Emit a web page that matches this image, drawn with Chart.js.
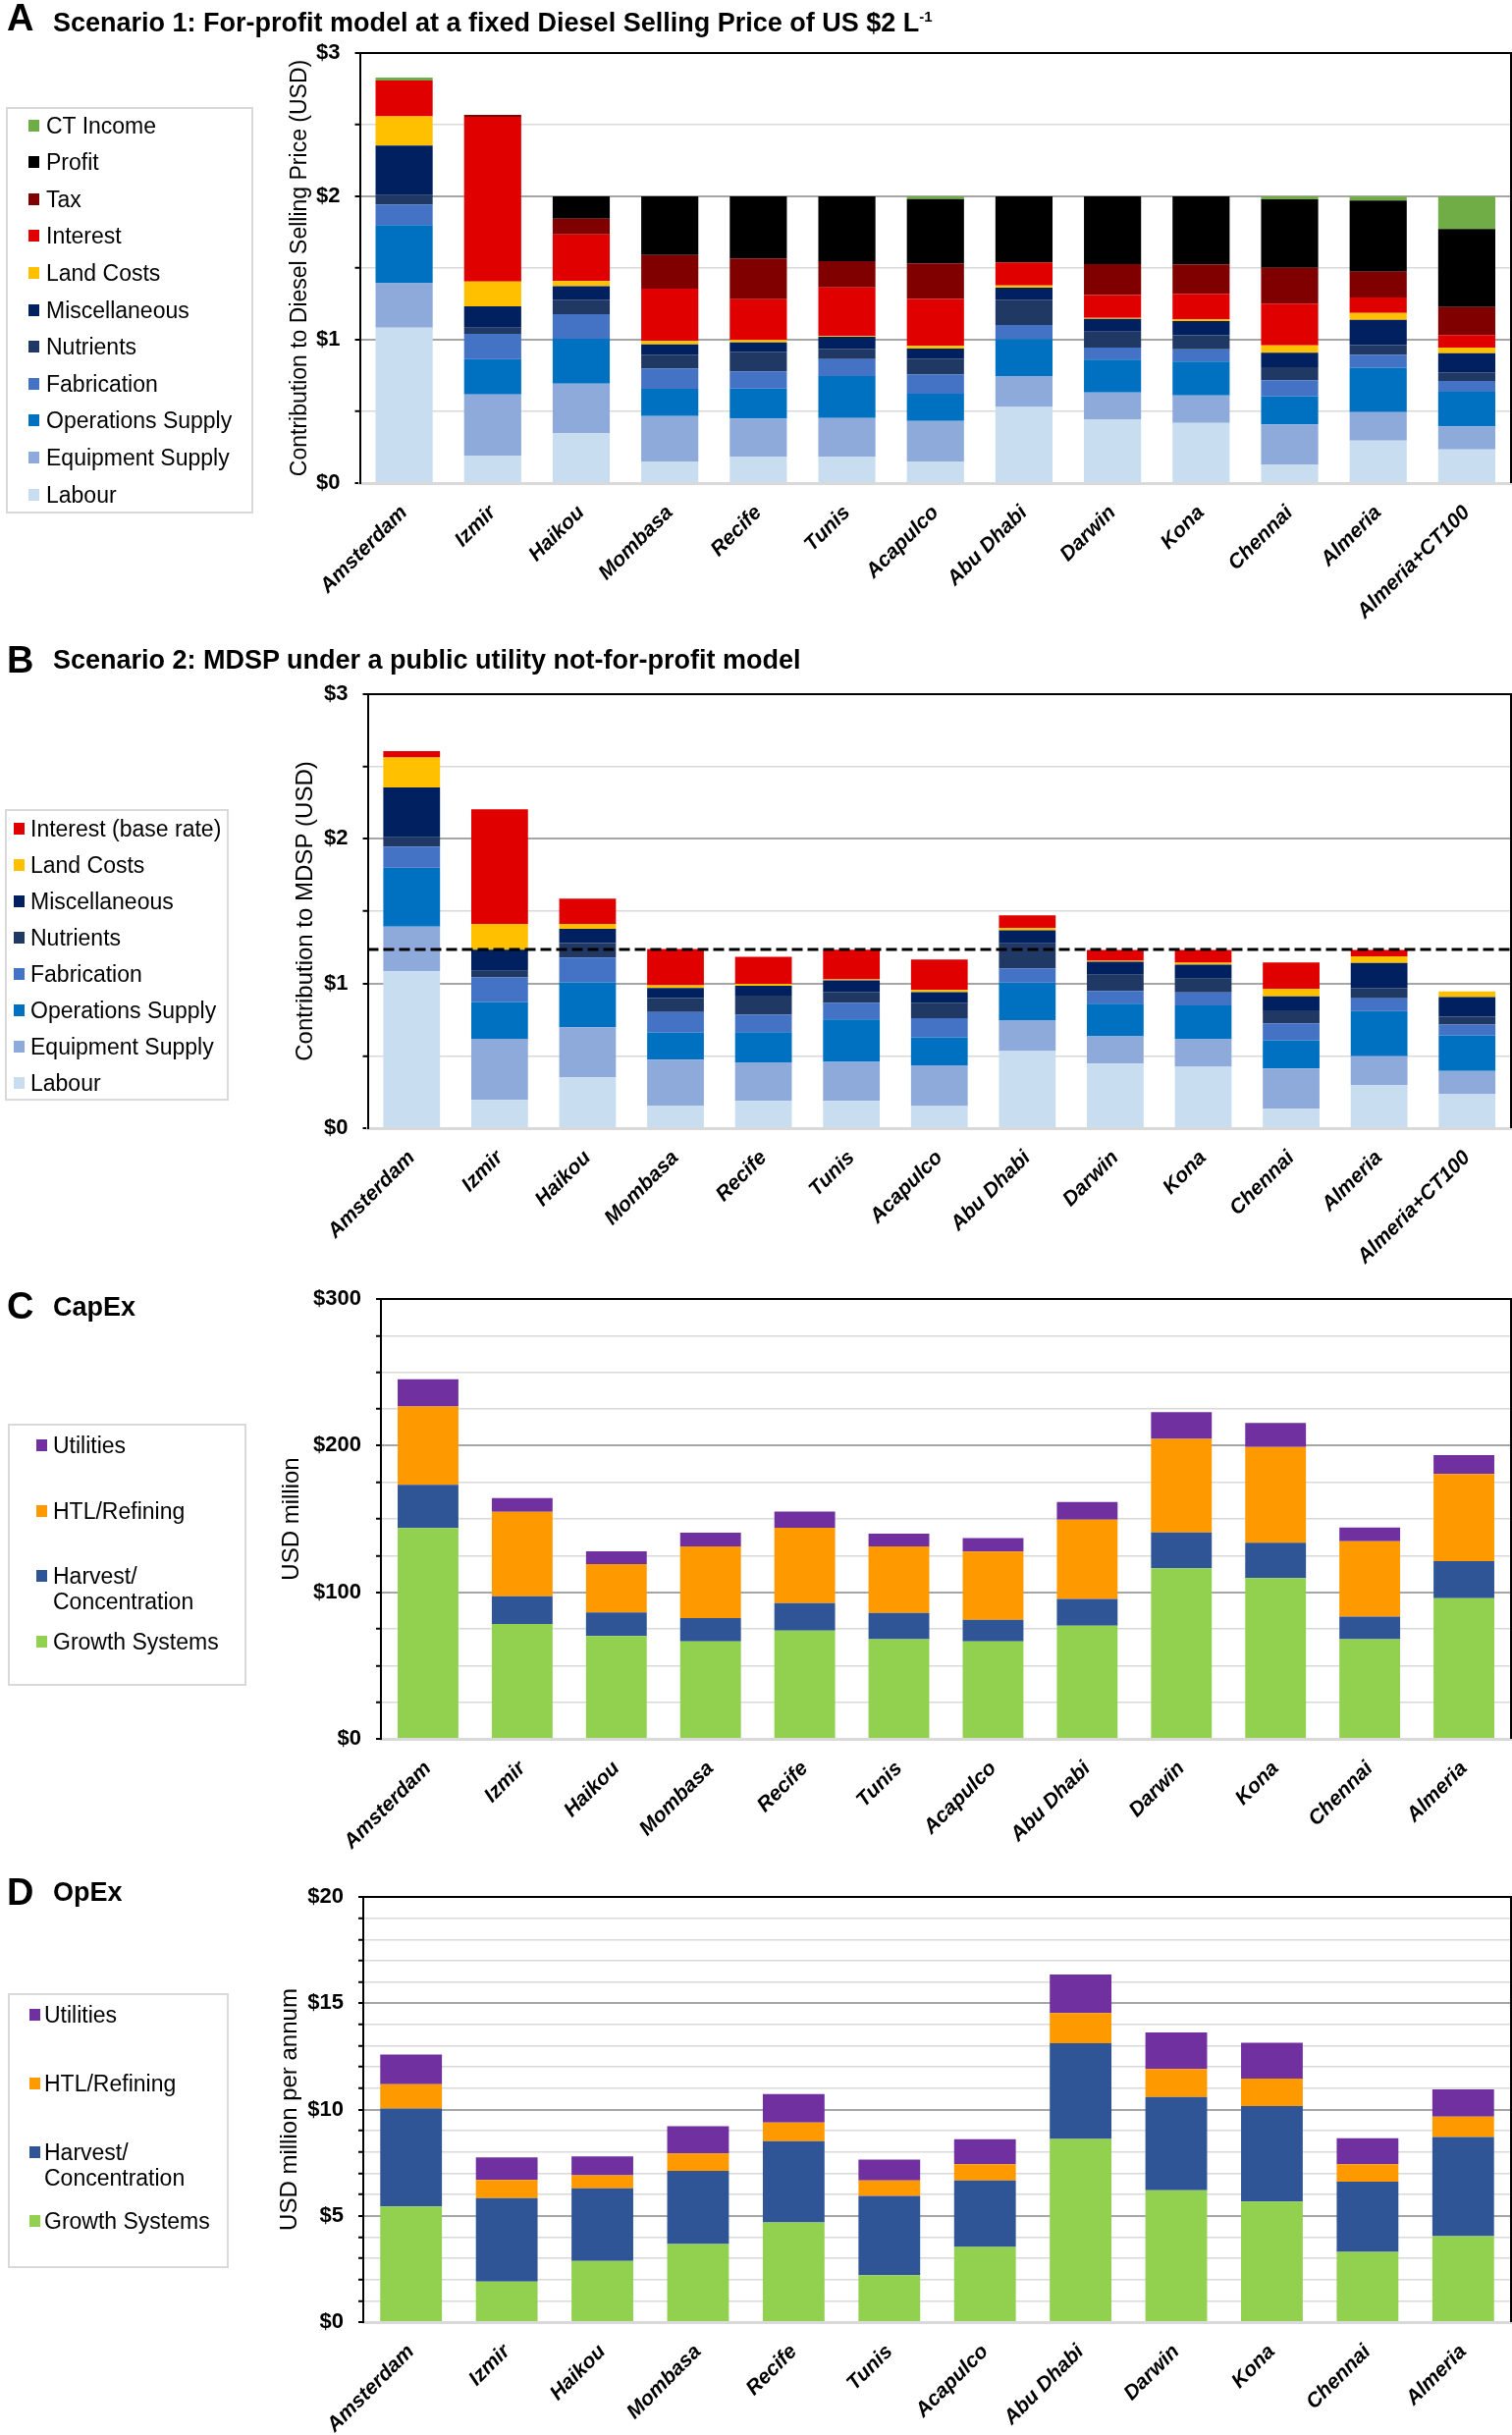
<!DOCTYPE html>
<html>
<head>
<meta charset="utf-8">
<script src="https://cdn.jsdelivr.net/npm/chart.js@4.4.1/dist/chart.umd.min.js"></script>
<style>
  body { margin: 0; background: #fff; font-family: "Liberation Sans", Arial, sans-serif; }
  #page { position: relative; width: 1540px; height: 2480px; overflow: hidden; }
  canvas { position: absolute; left: 0; }
  .letter { position: absolute; left: 7px; font-size: 38px; font-weight: bold; line-height: 38px; }
  .heading { position: absolute; left: 54px; font-size: 27px; font-weight: bold; line-height: 27px; white-space: nowrap; }
  .heading sup { font-size: 15px; }
  .legend { position: absolute; border: 2px solid #d9d9d9; box-sizing: border-box; }
  .item { position: absolute; font-size: 23px; line-height: 26px; color: #000; }
  .swatch { position: absolute; width: 11px; height: 12px; }
</style>
</head>
<body>
<div id="page">
  <canvas id="chartA" width="1540" height="650" style="top:0px"></canvas>
  <canvas id="chartB" width="1540" height="660" style="top:650px"></canvas>
  <canvas id="chartC" width="1540" height="610" style="top:1290px"></canvas>
  <canvas id="chartD" width="1540" height="580" style="top:1900px"></canvas>

  <div class="letter" style="top:-1px">A</div>
  <div class="heading" style="top:3px">Scenario 1: For-profit model at a fixed Diesel Selling Price of US $2 L<sup>-1</sup></div>
  <div class="letter" style="top:653px">B</div>
  <div class="heading" style="top:659px">Scenario 2: MDSP under a public utility not-for-profit model</div>
  <div class="letter" style="top:1311px">C</div>
  <div class="heading" style="top:1318px">CapEx</div>
  <div class="letter" style="top:1908px">D</div>
  <div class="heading" style="top:1914px">OpEx</div>
</div>

<script>
// categories
const sites = ['Amsterdam', 'Izmir', 'Haikou', 'Mombasa', 'Recife', 'Tunis', 'Acapulco',
  'Abu Dhabi', 'Darwin', 'Kona', 'Chennai', 'Almeria'];
const sitesCT = sites.concat(['Almeria+CT100']);

// Scenario 1 - USD per litre
const labour1   = [1.084, 0.192, 0.349, 0.151, 0.185, 0.185, 0.151, 0.530, 0.445, 0.420, 0.130, 0.297, 0.235];
const equip1    = [0.309, 0.427, 0.345, 0.317, 0.265, 0.269, 0.283, 0.217, 0.187, 0.192, 0.279, 0.198, 0.160];
const ops1      = [0.406, 0.246, 0.313, 0.190, 0.210, 0.293, 0.189, 0.258, 0.229, 0.235, 0.198, 0.309, 0.242];
const fab1      = [0.144, 0.176, 0.171, 0.141, 0.119, 0.118, 0.135, 0.098, 0.084, 0.087, 0.110, 0.091, 0.075];
const nutr1     = [0.066, 0.043, 0.101, 0.096, 0.137, 0.071, 0.110, 0.176, 0.112, 0.096, 0.091, 0.068, 0.060];
const misc1     = [0.345, 0.149, 0.095, 0.073, 0.066, 0.085, 0.070, 0.084, 0.089, 0.100, 0.101, 0.176, 0.134];
const land1     = [0.205, 0.173, 0.035, 0.023, 0.016, 0.004, 0.019, 0.016, 0.007, 0.014, 0.052, 0.048, 0.039];
const interest1 = [0.249, 1.149, 0.326, 0.365, 0.285, 0.340, 0.328, 0.160, 0.158, 0.176, 0.290, 0.108, 0.087];
const tax1      = [0, 0.013, 0.110, 0.235, 0.283, 0.183, 0.247, 0, 0.216, 0.205, 0.251, 0.180, 0.196];
const profit1   = [0, 0, 0.155, 0.409, 0.434, 0.452, 0.450, 0.461, 0.473, 0.475, 0.477, 0.496, 0.544];
const ctIncome1 = [0.021, 0, 0, 0, 0, 0, 0.018, 0, 0, 0, 0.021, 0.027, 0.228];

// Scenario 2 - MDSP, USD per litre
const labour2   = [1.085, 0.195, 0.351, 0.156, 0.188, 0.188, 0.152, 0.532, 0.446, 0.424, 0.134, 0.299, 0.238];
const equip2    = [0.308, 0.423, 0.347, 0.317, 0.263, 0.270, 0.283, 0.215, 0.188, 0.190, 0.278, 0.199, 0.158];
const ops2      = [0.408, 0.254, 0.310, 0.188, 0.213, 0.294, 0.192, 0.259, 0.227, 0.235, 0.195, 0.311, 0.245];
const fab2      = [0.145, 0.170, 0.172, 0.141, 0.120, 0.115, 0.134, 0.099, 0.088, 0.089, 0.118, 0.088, 0.075];
const nutr2     = [0.065, 0.045, 0.100, 0.097, 0.133, 0.075, 0.106, 0.172, 0.111, 0.095, 0.090, 0.072, 0.054];
const misc2     = [0.345, 0.147, 0.097, 0.070, 0.068, 0.080, 0.073, 0.091, 0.091, 0.097, 0.096, 0.173, 0.136];
const land2     = [0.206, 0.177, 0.034, 0.019, 0.012, 0.006, 0.016, 0.016, 0.006, 0.014, 0.052, 0.045, 0.039];
const interest2 = [0.045, 0.793, 0.175, 0.251, 0.188, 0.206, 0.210, 0.088, 0.075, 0.088, 0.183, 0.045, 0];
const mdspLine = 1.235;

// CapEx - USD million
const growthCapex  = [143.8, 78.3, 70.1, 66.5, 73.9, 67.9, 66.5, 77.2, 116.3, 109.6, 67.9, 96.0];
const harvestCapex = [29.4, 19.0, 16.1, 15.9, 18.7, 18.0, 14.7, 18.3, 24.5, 24.1, 15.4, 25.2];
const htlCapex     = [53.4, 57.6, 33.0, 48.8, 51.4, 45.3, 46.5, 54.0, 63.7, 65.4, 51.5, 59.4];
const utilCapex    = [18.7, 9.4, 8.7, 9.4, 11.1, 8.7, 9.3, 12.1, 18.3, 16.3, 9.4, 12.9];

// OpEx - USD million per annum
const growthOpex  = [5.44, 1.90, 2.88, 3.67, 4.69, 2.21, 3.53, 8.62, 6.20, 5.67, 3.30, 4.04];
const harvestOpex = [4.61, 3.93, 3.41, 3.44, 3.82, 3.73, 3.13, 4.50, 4.39, 4.49, 3.30, 4.67];
const htlOpex     = [1.14, 0.86, 0.62, 0.82, 0.88, 0.72, 0.77, 1.42, 1.31, 1.30, 0.82, 0.96];
const utilOpex    = [1.40, 1.06, 0.88, 1.29, 1.34, 0.99, 1.17, 1.81, 1.73, 1.68, 1.23, 1.28];

const FONT = '"Liberation Sans", Arial, sans-serif';
const C = {
  labour: '#c9ddf1', equip: '#8eaadb', ops: '#0070c0', fab: '#4472c4', nutr: '#203864',
  misc: '#002060', land: '#ffc000', interest: '#e00000', tax: '#800000', profit: '#000000',
  ct: '#70ad47', growth: '#92d050', harvest: '#2f5597', htl: '#ff9900', util: '#7030a0'
};

// top + right black frame like the excel plot area
const framePlugin = {
  id: 'frame',
  afterDraw(chart) {
    const { ctx, chartArea: a } = chart;
    ctx.save();
    ctx.strokeStyle = '#000';
    ctx.lineWidth = 2;
    ctx.beginPath();
    ctx.moveTo(a.left, a.top);
    ctx.lineTo(a.right, a.top);
    ctx.lineTo(a.right, a.bottom);
    ctx.stroke();
    ctx.restore();
  }
};

const mdspPlugin = {
  id: 'mdsp',
  afterDatasetsDraw(chart) {
    const { ctx, chartArea: a } = chart;
    const y = chart.scales.y.getPixelForValue(mdspLine);
    ctx.save();
    ctx.strokeStyle = '#000';
    ctx.lineWidth = 3;
    ctx.setLineDash([11, 5]);
    ctx.beginPath();
    ctx.moveTo(a.left, y);
    ctx.lineTo(a.right, y);
    ctx.stroke();
    ctx.restore();
  }
};

function isMajor(v, every) {
  return Math.abs(v / every - Math.round(v / every)) < 1e-6;
}

function stackedChart(id, labels, series, cfg) {
  return new Chart(document.getElementById(id), {
    type: 'bar',
    data: {
      labels: labels,
      datasets: series.map(s => ({
        label: s.name, data: s.data, backgroundColor: s.color,
        borderWidth: 0, categoryPercentage: 0.645, barPercentage: 1
      }))
    },
    options: {
      responsive: false,
      animation: false,
      devicePixelRatio: 1,
      layout: { padding: { left: cfg.padLeft, top: cfg.padTop, right: 1, bottom: 0 } },
      plugins: { legend: { display: false }, tooltip: { enabled: false } },
      scales: {
        x: {
          stacked: true,
          grid: { display: false, drawTicks: false },
          border: { color: '#d9d9d9', width: 3 },
          ticks: {
            autoSkip: false, minRotation: 45, maxRotation: 45, padding: 18, color: '#000',
            font: { family: FONT, size: 21, weight: 'bold', style: 'italic' }
          },
          afterFit: s => { s.height = cfg.xHeight; }
        },
        y: {
          stacked: true, min: 0, max: cfg.max,
          ticks: {
            stepSize: cfg.step, autoSkip: false, padding: 15, color: '#000',
            font: { family: FONT, size: 22, weight: 'bold' },
            callback: v => isMajor(v, cfg.labelEvery) ? '$' + v : ''
          },
          grid: {
            color: c => {
              const v = c.tick.value;
              if (v >= cfg.max) return 'rgba(0,0,0,0)';
              if (v === 0) return '#d9d9d9';
              return isMajor(v, cfg.labelEvery) ? '#a6a6a6' : '#d9d9d9';
            },
            lineWidth: c => isMajor(c.tick.value, cfg.labelEvery) ? 2 : 1.5,
            tickColor: '#000', tickLength: 5, tickWidth: 2
          },
          border: { color: '#000', width: 2 },
          title: {
            display: true, text: cfg.title, color: '#000', padding: 0,
            font: { family: FONT, size: cfg.titleSize }
          },
          afterFit: s => { s.width = cfg.yWidth; }
        }
      }
    },
    plugins: [framePlugin].concat(cfg.extra || [])
  });
}

// html legend, listed top of stack first
function buildLegend(series, box) {
  const page = document.getElementById('page');
  const frame = document.createElement('div');
  frame.className = 'legend';
  Object.assign(frame.style, { left: box.left + 'px', top: box.top + 'px', width: box.w + 'px', height: box.h + 'px' });
  page.appendChild(frame);
  series.slice().reverse().forEach((s, i) => {
    const item = document.createElement('div');
    item.className = 'item';
    item.style.left = box.textX + 'px';
    item.style.top = (box.firstY + i * box.gap - 13) + 'px';
    item.style.width = box.textW + 'px';
    const sw = document.createElement('span');
    sw.className = 'swatch';
    sw.style.background = s.color;
    sw.style.left = (box.markX - box.textX) + 'px';
    sw.style.top = '7px';
    item.appendChild(sw);
    item.appendChild(document.createTextNode(s.name));
    page.appendChild(item);
  });
}

const seriesA = [
  { name: 'Labour', data: labour1, color: C.labour },
  { name: 'Equipment Supply', data: equip1, color: C.equip },
  { name: 'Operations Supply', data: ops1, color: C.ops },
  { name: 'Fabrication', data: fab1, color: C.fab },
  { name: 'Nutrients', data: nutr1, color: C.nutr },
  { name: 'Miscellaneous', data: misc1, color: C.misc },
  { name: 'Land Costs', data: land1, color: C.land },
  { name: 'Interest', data: interest1, color: C.interest },
  { name: 'Tax', data: tax1, color: C.tax },
  { name: 'Profit', data: profit1, color: C.profit },
  { name: 'CT Income', data: ctIncome1, color: C.ct }
];
const seriesB = [
  { name: 'Labour', data: labour2, color: C.labour },
  { name: 'Equipment Supply', data: equip2, color: C.equip },
  { name: 'Operations Supply', data: ops2, color: C.ops },
  { name: 'Fabrication', data: fab2, color: C.fab },
  { name: 'Nutrients', data: nutr2, color: C.nutr },
  { name: 'Miscellaneous', data: misc2, color: C.misc },
  { name: 'Land Costs', data: land2, color: C.land },
  { name: 'Interest (base rate)', data: interest2, color: C.interest }
];
const seriesC = [
  { name: 'Growth Systems', data: growthCapex, color: C.growth },
  { name: 'Harvest/ Concentration', data: harvestCapex, color: C.harvest },
  { name: 'HTL/Refining', data: htlCapex, color: C.htl },
  { name: 'Utilities', data: utilCapex, color: C.util }
];
const seriesD = [
  { name: 'Growth Systems', data: growthOpex, color: C.growth },
  { name: 'Harvest/ Concentration', data: harvestOpex, color: C.harvest },
  { name: 'HTL/Refining', data: htlOpex, color: C.htl },
  { name: 'Utilities', data: utilOpex, color: C.util }
];

stackedChart('chartA', sitesCT, seriesA, {
  padLeft: 292, yWidth: 74.5, padTop: 54, xHeight: 158, max: 3, step: 0.5, labelEvery: 1,
  title: 'Contribution to Diesel Selling Price (USD)', titleSize: 23
});
stackedChart('chartB', sitesCT, seriesB, {
  padLeft: 297, yWidth: 77.5, padTop: 57, xHeight: 161, max: 3, step: 0.5, labelEvery: 1,
  title: 'Contribution to MDSP (USD)', titleSize: 24, extra: [mdspPlugin]
});
stackedChart('chartC', sites, seriesC, {
  padLeft: 283, yWidth: 105, padTop: 33, xHeight: 129, max: 300, step: 25, labelEvery: 100,
  title: 'USD million', titleSize: 24
});
stackedChart('chartD', sites, seriesD, {
  padLeft: 281, yWidth: 89, padTop: 32, xHeight: 115, max: 20, step: 1, labelEvery: 5,
  title: 'USD million per annum', titleSize: 24
});

buildLegend(seriesA, { left: 6, top: 109, w: 252, h: 414, markX: 29, textX: 47, textW: 205, firstY: 127.5, gap: 37.6 });
buildLegend(seriesB, { left: 5, top: 824, w: 228, h: 297, markX: 14, textX: 31, textW: 200, firstY: 843.6, gap: 37.0 });
buildLegend(seriesC, { left: 8, top: 1450, w: 243, h: 267, markX: 37, textX: 54, textW: 190, firstY: 1472, gap: 66.6 });
buildLegend(seriesD, { left: 8, top: 2030, w: 225, h: 280, markX: 30, textX: 45, textW: 180, firstY: 2052, gap: 70 });
</script>
</body>
</html>
